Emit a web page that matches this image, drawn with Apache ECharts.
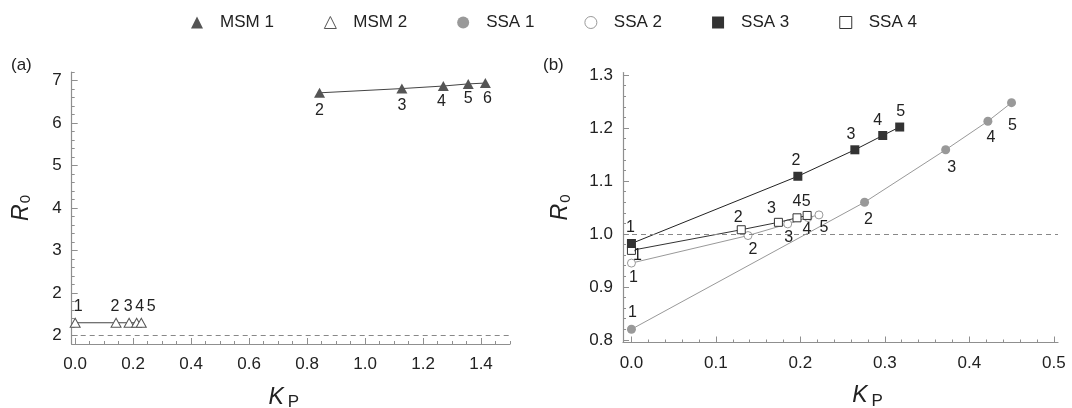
<!DOCTYPE html>
<html><head><meta charset="utf-8">
<script src="https://cdn.jsdelivr.net/npm/echarts@6/dist/echarts.min.js"></script>
<style>html,body{margin:0;padding:0;background:#fff}#c{width:1072px;height:408px}</style>
</head><body><div id="c"></div><script>
// ---------------- DATA ----------------
const msm1K = [0.843, 1.127, 1.270, 1.356, 1.415];
const msm1R = [6.71, 6.81, 6.87, 6.92, 6.94];
const msm1Labels = ['2', '3', '4', '5', '6'];

const msm2K = [0.0, 0.141, 0.186, 0.212, 0.228];
const msm2R = [1.30, 1.30, 1.30, 1.30, 1.30];
const msm2Labels = ['1', '2', '3', '4', '5'];

const ssa1K = [0.0, 0.276, 0.372, 0.422, 0.450];
const ssa1R = [0.820, 1.060, 1.159, 1.213, 1.248];
const ssa2K = [0.0, 0.138, 0.185, 0.209, 0.222];
const ssa2R = [0.945, 0.997, 1.019, 1.031, 1.036];
const ssa3K = [0.0, 0.197, 0.2645, 0.2975, 0.3176];
const ssa3R = [0.982, 1.109, 1.159, 1.186, 1.202];
const ssa4K = [0.0, 0.130, 0.174, 0.196, 0.208];
const ssa4R = [0.969, 1.008, 1.022, 1.0305, 1.035];
const ssaLabels = ['1', '2', '3', '4', '5'];

const thresholdR0 = 1;

const xTicksA = [0, 0.2, 0.4, 0.6, 0.8, 1.0, 1.2, 1.4];
const xTickLabelsA = ['0.0', '0.2', '0.4', '0.6', '0.8', '1.0', '1.2', '1.4'];
const yTicksA = [1, 2, 3, 4, 5, 6, 7];
const yTickLabelsA = ['2', '2', '3', '4', '5', '6', '7'];
const xTicksB = [0, 0.1, 0.2, 0.3, 0.4, 0.5];
const xTickLabelsB = ['0.0', '0.1', '0.2', '0.3', '0.4', '0.5'];
const yTicksB = [0.8, 0.9, 1.0, 1.1, 1.2, 1.3];
const yTickLabelsB = ['0.8', '0.9', '1.0', '1.1', '1.2', '1.3'];

// ---------------- STYLE ----------------
const FONT = '"Liberation Sans", Arial, Helvetica, sans-serif';
const AX = '#8f8f8f';
const TXT = '#222';

function steps(a, b, s) { const out = []; const n = Math.round((b - a) / s); for (let i = 0; i <= n; i++) out.push(+(a + i * s).toFixed(6)); return out; }
function lab(ticks, labels) { return v => { const i = ticks.findIndex(t => Math.abs(t - v) < 1e-6); return i >= 0 ? labels[i] : ''; }; }

function mainX(grid, min, max, ticks, labels, nameGap, namePad) {
  return {
    type: 'value', gridIndex: grid, min, max, position: 'bottom',
    axisLine: { show: true, onZero: false, lineStyle: { color: AX, width: 1.2 } },
    axisTick: { show: true, inside: true, length: 6, customValues: ticks, lineStyle: { color: AX, width: 1 } },
    axisLabel: { show: true, customValues: ticks, formatter: lab(ticks, labels), fontSize: 17, color: TXT, margin: 12, fontFamily: FONT },
    splitLine: { show: false },
    name: '{k|K}{p|P}', nameLocation: 'middle', nameGap, nameMoveOverlap: false,
    nameTextStyle: { padding: namePad, rich: {
      k: { fontSize: 23, fontStyle: 'italic', color: TXT, fontFamily: FONT },
      p: { fontSize: 17, color: TXT, fontFamily: FONT, padding: [10, 0, 0, 4] } } }
  };
}
function minorX(grid, min, max, ticks) {
  return {
    type: 'value', gridIndex: grid, min, max, position: 'bottom', offset: 0,
    axisLine: { show: false, onZero: false }, axisLabel: { show: false }, splitLine: { show: false },
    axisTick: { show: true, inside: true, length: 3, customValues: ticks, lineStyle: { color: AX, width: 1 } }
  };
}
function mainY(grid, min, max, ticks, labels, nameGap) {
  return {
    type: 'value', gridIndex: grid, min, max, position: 'left',
    axisLine: { show: true, onZero: false, lineStyle: { color: AX, width: 1.2 } },
    axisTick: { show: true, inside: true, length: 6, customValues: ticks, lineStyle: { color: AX, width: 1 } },
    axisLabel: { show: true, customValues: ticks, formatter: lab(ticks, labels), fontSize: 17, color: TXT, margin: 10, fontFamily: FONT },
    splitLine: { show: false },
    name: '{r|R}{s|0}', nameLocation: 'middle', nameRotate: 90, nameGap, nameMoveOverlap: false,
    nameTextStyle: { rich: {
      r: { fontSize: 23, fontStyle: 'italic', color: TXT, fontFamily: FONT },
      s: { fontSize: 15, color: TXT, fontFamily: FONT, padding: [10, 0, 0, 1] } } }
  };
}
function minorY(grid, min, max, ticks) {
  return {
    type: 'value', gridIndex: grid, min, max, position: 'left', offset: 0,
    axisLine: { show: false, onZero: false }, axisLabel: { show: false }, splitLine: { show: false },
    axisTick: { show: true, inside: true, length: 3, customValues: ticks, lineStyle: { color: AX, width: 1 } }
  };
}

function mk(name, ax, xs, ys, labels, offs, sty) {
  return {
    name, type: 'line', xAxisIndex: ax, yAxisIndex: ax, clip: false, animation: false,
    data: xs.map((x, i) => ({ value: [x, ys[i]], label: { offset: offs[i] } })),
    symbol: sty.symbol, symbolSize: sty.size, showSymbol: true, showAllSymbol: true,
    lineStyle: { color: sty.line, width: sty.lw || 1 },
    itemStyle: { color: sty.fill, borderColor: sty.stroke || sty.fill, borderWidth: sty.bw || 0 },
    label: { show: true, position: 'inside', formatter: p => labels[p.dataIndex], fontSize: 16, color: TXT,
      fontFamily: FONT, textBorderWidth: 0 },
    emphasis: { disabled: true }, z: sty.z || 2
  };
}

const dash = { silent: true, symbol: 'none', label: { show: false }, animation: false,
  lineStyle: { type: [5, 4], color: '#888', width: 1 }, data: [{ yAxis: thresholdR0 }] };

const offMsm1 = [[0, 18], [0, 17], [-2, 16], [0, 15], [2, 16]];
const offMsm2 = [[3, -16], [-1, -16], [-1, -16], [3, -16], [10, -16]];
const offSsa1 = [[1, -17], [4, 17], [6, 18], [3, 16], [1, 23]];
const offSsa2 = [[2, 15], [5, 14], [1, 14], [-1, 12], [5, 13]];
const offSsa3 = [[-1, -16], [-2, -16], [-4, -15], [-5, -15], [1, -15]];
const offSsa4 = [[6, 5], [-3, -12], [-7, -14], [0, -16], [-1, -14]];

const s1 = mk('MSM 1', 0, msm1K, msm1R, msm1Labels, offMsm1, { symbol: 'triangle', size: [11, 10], fill: '#555', line: '#444' });
const s2 = mk('MSM 2', 0, msm2K, msm2R, msm2Labels, offMsm2, { symbol: 'triangle', size: [10, 9], fill: '#fff', stroke: '#555', bw: 1, line: '#444' });
s2.markLine = dash;
const s3 = mk('SSA 1', 1, ssa1K, ssa1R, ssaLabels, offSsa1, { symbol: 'circle', size: 9, fill: '#999', line: '#999' });
s3.markLine = dash;
const s4 = mk('SSA 2', 1, ssa2K, ssa2R, ssaLabels, offSsa2, { symbol: 'circle', size: 8, fill: '#fff', stroke: '#999', bw: 1, line: '#999' });
const s6 = mk('SSA 4', 1, ssa4K, ssa4R, ssaLabels, offSsa4, { symbol: 'rect', size: 8, fill: '#fff', stroke: '#333', bw: 1, line: '#333', z: 3 });
const s5 = mk('SSA 3', 1, ssa3K, ssa3R, ssaLabels, offSsa3, { symbol: 'rect', size: 9, fill: '#333', line: '#222', z: 4 });

const chart = echarts.init(document.getElementById('c'), null, { renderer: 'canvas' });
chart.setOption({
  animation: false,
  backgroundColor: '#fff',
  textStyle: { fontFamily: FONT },
  title: [
    { text: '(a)', left: 11, top: 57, padding: 0, textStyle: { fontSize: 17, fontWeight: 'normal', color: TXT, fontFamily: FONT } },
    { text: '(b)', left: 543, top: 57, padding: 0, textStyle: { fontSize: 17, fontWeight: 'normal', color: TXT, fontFamily: FONT } }
  ],
  legend: {
    left: 191, top: 14, padding: 0, itemWidth: 12, itemHeight: 12, itemGap: 50,
    textStyle: { fontSize: 17, color: TXT, fontFamily: FONT, padding: [0, 0, 0, 12] },
    data: [
      { name: 'MSM 1', icon: 'triangle', itemStyle: { color: '#555', borderWidth: 0 } },
      { name: 'MSM 2', icon: 'triangle', itemStyle: { color: '#fff', borderColor: '#555', borderWidth: 1 } },
      { name: 'SSA 1', icon: 'circle', itemStyle: { color: '#999', borderWidth: 0 } },
      { name: 'SSA 2', icon: 'circle', itemStyle: { color: '#fff', borderColor: '#999', borderWidth: 1 } },
      { name: 'SSA 3', icon: 'rect', itemStyle: { color: '#333', borderWidth: 0 } },
      { name: 'SSA 4', icon: 'rect', itemStyle: { color: '#fff', borderColor: '#333', borderWidth: 1 } }
    ]
  },
  grid: [
    { left: 71.7, top: 72, width: 438.3, height: 272, containLabel: false, outerBoundsMode: 'none' },
    { left: 623, top: 72.5, width: 435, height: 270, containLabel: false, outerBoundsMode: 'none' }
  ],
  xAxis: [
    mainX(0, -0.012, 1.5, xTicksA, xTickLabelsA, 40, [0, 14, 0, 0]),
    mainX(1, -0.01, 0.505, xTicksB, xTickLabelsB, 40, [0, 0, 0, 54]),
    minorX(0, -0.012, 1.5, steps(0, 1.5, 0.05)),
    minorX(1, -0.01, 0.505, steps(0, 0.5, 0.02))
  ],
  yAxis: [
    mainY(0, 0.8, 7.2, yTicksA, yTickLabelsA, 38),
    mainY(1, 0.795, 1.305, yTicksB, yTickLabelsB, 50),
    minorY(0, 0.8, 7.2, steps(0.8, 7.2, 0.2)),
    minorY(1, 0.795, 1.305, steps(0.8, 1.3, 0.02))
  ],
  series: [s1, s2, s3, s4, s6, s5]
});
</script></body></html>
